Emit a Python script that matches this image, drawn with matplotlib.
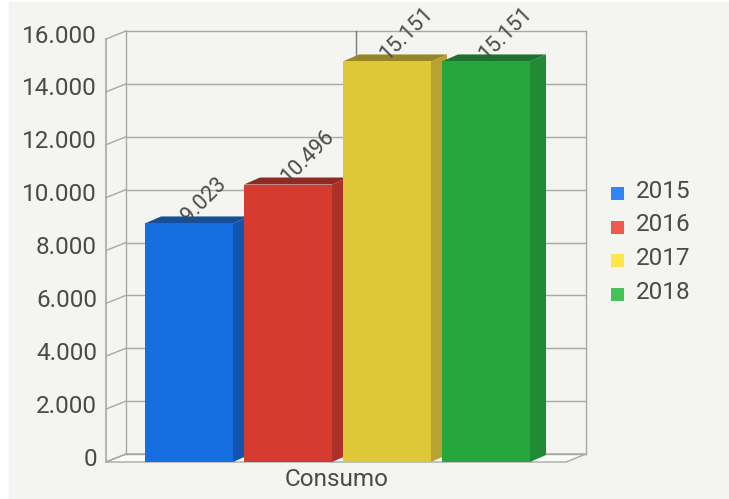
import matplotlib
matplotlib.use("Agg")
import matplotlib.pyplot as plt
from matplotlib.patches import Polygon, Rectangle

# ----------------------------------------------------------------------------- data
years = ["2015", "2016", "2017", "2018"]
values = [9023, 10496, 15151, 15151]
labels = ["9.023", "10.496", "15.151", "15.151"]
category = "Consumo"
yticks = [0, 2000, 4000, 6000, 8000, 10000, 12000, 14000, 16000]
ytick_labels = ["0", "2.000", "4.000", "6.000", "8.000", "10.000", "12.000", "14.000", "16.000"]

front = ["#146ee0", "#d63b30", "#dfc838", "#26a73e"]
side = ["#1254b0", "#ab3129", "#b7a232", "#218a35"]
top = ["#164f98", "#8e2a22", "#978626", "#1d7230"]
legend_col = ["#2f86f5", "#f05a4e", "#ffe54c", "#43c25a"]

# ----------------------------------------------------------------------------- layout (pixels)
W, H = 729, 499
X0, X1 = 106, 566          # front plane
Y0, YTOP = 462, 39         # front: value 0 / 16000
DX, DY = 20, -8            # wall depth
BDX, BDY = 16, -7          # bar depth
VMAX = 16000
BAR_X = [145, 244, 343, 442]
BAR_W = 88
TXT = "#4a4a4a"
GRID = "#a8a8a8"
FONT = ["Roboto", "DejaVu Sans"]
FW = "normal"


def Y(v):
    return Y0 - v / VMAX * (Y0 - YTOP)


fig = plt.figure(figsize=(W / 100, H / 100), dpi=100, facecolor="white")
ax = fig.add_axes([0, 0, 1, 1])
ax.set_xlim(0, W)
ax.set_ylim(H, 0)
ax.axis("off")
ax.add_patch(Rectangle((9, 2), W, H, color="#f4f4f0", zorder=0))

# walls and floor
ax.add_patch(Polygon([(X0, Y0), (X1, Y0), (X1 + DX, Y0 + DY), (X0 + DX, Y0 + DY)],
                     closed=True, facecolor="#fbfbf9", edgecolor=GRID, lw=1, zorder=1))
for v in yticks:
    ax.plot([X0 + DX, X1 + DX], [Y(v) + DY, Y(v) + DY], color=GRID, lw=1, zorder=1)
    ax.plot([X0, X0 + DX], [Y(v), Y(v) + DY], color=GRID, lw=1, zorder=1)
ax.plot([X0, X0], [Y0, YTOP], color=GRID, lw=1.2, zorder=1)
ax.plot([X0 + DX, X0 + DX], [Y0 + DY, YTOP + DY], color=GRID, lw=1, zorder=1)
ax.plot([X1 + DX, X1 + DX], [Y0 + DY, YTOP + DY], color=GRID, lw=1, zorder=1)
mid = (X0 + X1) / 2 + DX
ax.plot([mid, mid], [Y0 + DY, YTOP + DY], color="#7a7a7a", lw=1, zorder=1)

# y tick labels
for v, t in zip(yticks, ytick_labels):
    ax.text(97, Y(v) - 3, t, ha="right", va="center", fontsize=17.5,
            color=TXT, family=FONT, fontweight=FW)

# bars
for i, (x, v) in enumerate(zip(BAR_X, values)):
    yt = Y(v)
    ax.add_patch(Polygon([(x + BAR_W, Y0), (x + BAR_W + BDX, Y0 + BDY),
                          (x + BAR_W + BDX, yt + BDY), (x + BAR_W, yt)],
                         closed=True, facecolor=side[i], edgecolor="none", zorder=2 + i))
    ax.add_patch(Polygon([(x, yt), (x + BDX, yt + BDY), (x + BAR_W + BDX, yt + BDY),
                          (x + BAR_W, yt)],
                         closed=True, facecolor=top[i], edgecolor="none", zorder=2 + i))
    ax.add_patch(Rectangle((x, yt), BAR_W, Y0 - yt, facecolor=front[i],
                           edgecolor="none", zorder=2 + i))
    ax.text(x + 40, yt - 4, labels[i], rotation=45, rotation_mode="anchor",
            ha="left", va="center", fontsize=15.5, color=TXT, family=FONT,
            fontweight=FW, zorder=10)

ax.text(337, 480, category, ha="center", va="center", fontsize=17.5,
        color=TXT, family=FONT, fontweight=FW)

# legend
for i, yr in enumerate(years):
    ly = 193 + i * 33.7
    ax.add_patch(Rectangle((611, ly - 6), 13, 13, facecolor=legend_col[i],
                           edgecolor="none", zorder=5))
    ax.text(636, ly - 2, yr, ha="left", va="center", fontsize=17.5,
            color=TXT, family=FONT, fontweight=FW)

fig.savefig("out.png", dpi=100, facecolor=fig.get_facecolor())
